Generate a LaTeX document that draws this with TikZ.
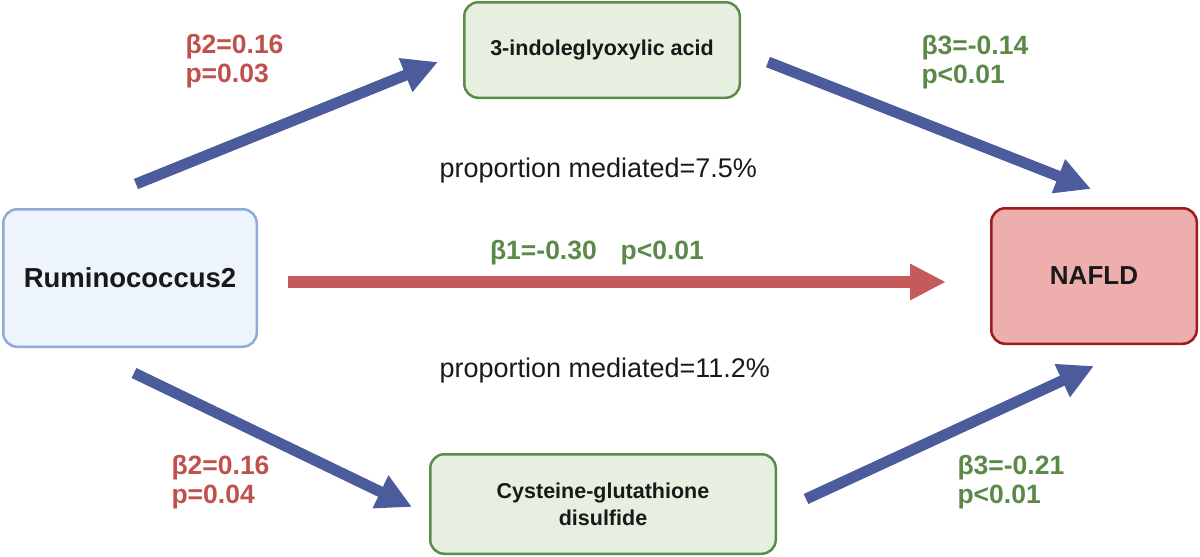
\documentclass[tikz,border=0pt]{standalone}
\usepackage{fontspec}
\setmainfont{Liberation Sans}
\usetikzlibrary{arrows.meta}
\definecolor{expblue}{HTML}{EDF4FC}
\definecolor{expline}{HTML}{8FA9D8}
\definecolor{medfill}{HTML}{E6EFE0}
\definecolor{medline}{HTML}{5B8C4A}
\definecolor{outfill}{HTML}{EEAEAE}
\definecolor{outline}{HTML}{9B1C1C}
\definecolor{pathblue}{HTML}{4B5B9B}
\definecolor{pathred}{HTML}{C55A5A}
\definecolor{coefred}{HTML}{C0504D}
\definecolor{coefgreen}{HTML}{5B8A48}

\begin{document}
\begin{tikzpicture}[x=1pt, y=-1pt,
    box/.style={draw, line width=2.5pt, rounded corners=14pt, inner sep=0pt,
      align=center, text=black!90},
    pathway/.style={line width=11pt, pathblue, -{Triangle[length=35pt,width=34pt]}},
    coef/.style={anchor=west, align=left, font=\bfseries\fontsize{26.5}{29}\selectfont},
    share/.style={anchor=west, text=black!90, font=\fontsize{27}{30}\selectfont}]
    \useasboundingbox (0,0) rectangle (1200,557);

    % Exposure, mediators and outcome
    \node[box, fill=expblue, draw=expline, minimum width=253.5pt, minimum height=137.5pt,
      font=\bfseries\fontsize{27.5}{30}\selectfont] (rumino) at (130,278) {Ruminococcus2};
    \node[box, fill=medfill, draw=medline, minimum width=275.5pt, minimum height=95.5pt,
      font=\bfseries\fontsize{21.5}{27}\selectfont] (indole) at (602,50) {3-indoleglyoxylic acid};
    \node[box, fill=medfill, draw=medline, minimum width=345.5pt, minimum height=99.5pt,
      font=\bfseries\fontsize{21.5}{27}\selectfont] (cysteine) at (603,504) {Cysteine-glutathione\\disulfide};
    \node[box, fill=outfill, draw=outline, minimum width=205.5pt, minimum height=135.5pt,
      font=\bfseries\fontsize{26}{30}\selectfont] (nafld) at (1094,276) {NAFLD};

    % Arrow ends
    \coordinate (up1) at (136,184);   \coordinate (up2) at (438,62);
    \coordinate (up3) at (768,62);    \coordinate (up4) at (1091,189);
    \coordinate (dn1) at (134,373);   \coordinate (dn2) at (412,507);
    \coordinate (dn3) at (806,499);   \coordinate (dn4) at (1094,366);
    \coordinate (dir1) at (288,282);  \coordinate (dir2) at (946,282);

    % Indirect paths
    \draw[pathway] (up1) -- (up2);
    \draw[pathway] (up3) -- (up4);
    \draw[pathway] (dn1) -- (dn2);
    \draw[pathway] (dn3) -- (dn4);

    % Direct path
    \draw[line width=12pt, pathred, -{Triangle[length=36pt,width=34pt]}] (dir1) -- (dir2);

    % Coefficients
    \node[coef, coefred] (c1) at (182,61) {β2=0.16\\p=0.03};
    \node[coef, coefgreen] (c2) at (918,62) {β3=-0.14\\p<0.01};
    \node[coef, coefred] (c3) at (168,482) {β2=0.16\\p=0.04};
    \node[coef, coefgreen] (c4) at (954,482) {β3=-0.21\\p<0.01};
    \node[coef, coefgreen, anchor=center] (c5) at (597,253) {β1=-0.30\hspace{0.9em}p<0.01};

    % Proportions mediated
    \node[share] (s1) at (436,171) {proportion mediated=7.5\%};
    \node[share] (s2) at (436,371) {proportion mediated=11.2\%};
\end{tikzpicture}
\end{document}
